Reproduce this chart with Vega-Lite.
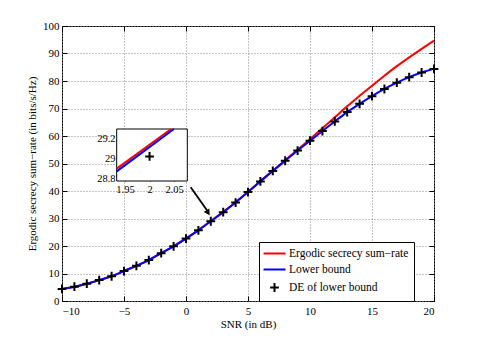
{
  "$schema": "https://vega.github.io/schema/vega-lite/v6.json",
  "width": 372,
  "height": 275,
  "autosize": "none",
  "padding": {"left": 62, "top": 26, "right": 45, "bottom": 38},
  "background": "white",
  "config": {
    "view": {"stroke": "black", "strokeWidth": 1},
    "font": "Liberation Serif",
    "axis": {
      "labelFont": "Liberation Serif", "titleFont": "Liberation Serif",
      "labelFontSize": 11, "titleFontSize": 11, "labelColor": "black", "titleColor": "black",
      "titleFontWeight": "normal", "domain": false, "tickColor": "black", "tickSize": -5
    },
    "legend": {
      "orient": "none", "legendX": 197, "legendY": 216, "direction": "vertical",
      "fillColor": "white", "strokeColor": "black", "padding": 5,
      "labelFont": "Liberation Serif", "labelFontSize": 11.5, "labelColor": "black",
      "symbolSize": 121, "symbolStrokeWidth": 2, "symbolOffset": 4, "labelOffset": 8,
      "rowPadding": 4, "columnPadding": 0, "columns": 1, "labelLimit": 300
    }
  },
  "datasets": {
    "curves": [
      {"snr": -10, "rate": 4.4, "series": "Ergodic secrecy sum−rate"},
      {"snr": -9, "rate": 5.2, "series": "Ergodic secrecy sum−rate"},
      {"snr": -8, "rate": 6.3, "series": "Ergodic secrecy sum−rate"},
      {"snr": -7, "rate": 7.6, "series": "Ergodic secrecy sum−rate"},
      {"snr": -6, "rate": 9.0, "series": "Ergodic secrecy sum−rate"},
      {"snr": -5, "rate": 10.9, "series": "Ergodic secrecy sum−rate"},
      {"snr": -4, "rate": 12.8, "series": "Ergodic secrecy sum−rate"},
      {"snr": -3, "rate": 14.9, "series": "Ergodic secrecy sum−rate"},
      {"snr": -2, "rate": 17.4, "series": "Ergodic secrecy sum−rate"},
      {"snr": -1, "rate": 20.0, "series": "Ergodic secrecy sum−rate"},
      {"snr": 0, "rate": 22.8, "series": "Ergodic secrecy sum−rate"},
      {"snr": 1, "rate": 25.8, "series": "Ergodic secrecy sum−rate"},
      {"snr": 2, "rate": 29.1, "series": "Ergodic secrecy sum−rate"},
      {"snr": 3, "rate": 32.4, "series": "Ergodic secrecy sum−rate"},
      {"snr": 4, "rate": 35.9, "series": "Ergodic secrecy sum−rate"},
      {"snr": 5, "rate": 39.7, "series": "Ergodic secrecy sum−rate"},
      {"snr": 6, "rate": 43.6, "series": "Ergodic secrecy sum−rate"},
      {"snr": 7, "rate": 47.4, "series": "Ergodic secrecy sum−rate"},
      {"snr": 8, "rate": 51.2, "series": "Ergodic secrecy sum−rate"},
      {"snr": 9, "rate": 55.0, "series": "Ergodic secrecy sum−rate"},
      {"snr": 10, "rate": 58.9, "series": "Ergodic secrecy sum−rate"},
      {"snr": 11, "rate": 62.8, "series": "Ergodic secrecy sum−rate"},
      {"snr": 12, "rate": 66.8, "series": "Ergodic secrecy sum−rate"},
      {"snr": 13, "rate": 70.8, "series": "Ergodic secrecy sum−rate"},
      {"snr": 14, "rate": 74.6, "series": "Ergodic secrecy sum−rate"},
      {"snr": 15, "rate": 78.3, "series": "Ergodic secrecy sum−rate"},
      {"snr": 16, "rate": 81.9, "series": "Ergodic secrecy sum−rate"},
      {"snr": 17, "rate": 85.4, "series": "Ergodic secrecy sum−rate"},
      {"snr": 18, "rate": 88.6, "series": "Ergodic secrecy sum−rate"},
      {"snr": 19, "rate": 91.7, "series": "Ergodic secrecy sum−rate"},
      {"snr": 20, "rate": 94.7, "series": "Ergodic secrecy sum−rate"},
      {"snr": -10, "rate": 4.4, "series": "Lower bound"},
      {"snr": -9, "rate": 5.2, "series": "Lower bound"},
      {"snr": -8, "rate": 6.3, "series": "Lower bound"},
      {"snr": -7, "rate": 7.6, "series": "Lower bound"},
      {"snr": -6, "rate": 9.0, "series": "Lower bound"},
      {"snr": -5, "rate": 10.9, "series": "Lower bound"},
      {"snr": -4, "rate": 12.8, "series": "Lower bound"},
      {"snr": -3, "rate": 14.9, "series": "Lower bound"},
      {"snr": -2, "rate": 17.4, "series": "Lower bound"},
      {"snr": -1, "rate": 19.9, "series": "Lower bound"},
      {"snr": 0, "rate": 22.7, "series": "Lower bound"},
      {"snr": 1, "rate": 25.7, "series": "Lower bound"},
      {"snr": 2, "rate": 29.0, "series": "Lower bound"},
      {"snr": 3, "rate": 32.3, "series": "Lower bound"},
      {"snr": 4, "rate": 35.8, "series": "Lower bound"},
      {"snr": 5, "rate": 39.6, "series": "Lower bound"},
      {"snr": 6, "rate": 43.5, "series": "Lower bound"},
      {"snr": 7, "rate": 47.3, "series": "Lower bound"},
      {"snr": 8, "rate": 51.0, "series": "Lower bound"},
      {"snr": 9, "rate": 54.7, "series": "Lower bound"},
      {"snr": 10, "rate": 58.3, "series": "Lower bound"},
      {"snr": 11, "rate": 61.8, "series": "Lower bound"},
      {"snr": 12, "rate": 65.3, "series": "Lower bound"},
      {"snr": 13, "rate": 68.7, "series": "Lower bound"},
      {"snr": 14, "rate": 71.7, "series": "Lower bound"},
      {"snr": 15, "rate": 74.5, "series": "Lower bound"},
      {"snr": 16, "rate": 77.1, "series": "Lower bound"},
      {"snr": 17, "rate": 79.4, "series": "Lower bound"},
      {"snr": 18, "rate": 81.4, "series": "Lower bound"},
      {"snr": 19, "rate": 83.1, "series": "Lower bound"},
      {"snr": 20, "rate": 84.4, "series": "Lower bound"}
    ],
    "de": [
      {"snr": -10, "rate": 4.4, "series": "DE of lower bound"},
      {"snr": -9, "rate": 5.2, "series": "DE of lower bound"},
      {"snr": -8, "rate": 6.3, "series": "DE of lower bound"},
      {"snr": -7, "rate": 7.6, "series": "DE of lower bound"},
      {"snr": -6, "rate": 9.0, "series": "DE of lower bound"},
      {"snr": -5, "rate": 10.9, "series": "DE of lower bound"},
      {"snr": -4, "rate": 12.8, "series": "DE of lower bound"},
      {"snr": -3, "rate": 14.9, "series": "DE of lower bound"},
      {"snr": -2, "rate": 17.4, "series": "DE of lower bound"},
      {"snr": -1, "rate": 19.9, "series": "DE of lower bound"},
      {"snr": 0, "rate": 22.7, "series": "DE of lower bound"},
      {"snr": 1, "rate": 25.7, "series": "DE of lower bound"},
      {"snr": 2, "rate": 29.0, "series": "DE of lower bound"},
      {"snr": 3, "rate": 32.3, "series": "DE of lower bound"},
      {"snr": 4, "rate": 35.8, "series": "DE of lower bound"},
      {"snr": 5, "rate": 39.6, "series": "DE of lower bound"},
      {"snr": 6, "rate": 43.5, "series": "DE of lower bound"},
      {"snr": 7, "rate": 47.3, "series": "DE of lower bound"},
      {"snr": 8, "rate": 51.0, "series": "DE of lower bound"},
      {"snr": 9, "rate": 54.7, "series": "DE of lower bound"},
      {"snr": 10, "rate": 58.3, "series": "DE of lower bound"},
      {"snr": 11, "rate": 61.8, "series": "DE of lower bound"},
      {"snr": 12, "rate": 65.3, "series": "DE of lower bound"},
      {"snr": 13, "rate": 68.7, "series": "DE of lower bound"},
      {"snr": 14, "rate": 71.7, "series": "DE of lower bound"},
      {"snr": 15, "rate": 74.5, "series": "DE of lower bound"},
      {"snr": 16, "rate": 77.1, "series": "DE of lower bound"},
      {"snr": 17, "rate": 79.4, "series": "DE of lower bound"},
      {"snr": 18, "rate": 81.4, "series": "DE of lower bound"},
      {"snr": 19, "rate": 83.1, "series": "DE of lower bound"},
      {"snr": 20, "rate": 84.4, "series": "DE of lower bound"}
    ],
    "arrow": [
      {"snr": 0.38, "rate": 41.4},
      {"snr": 1.72, "rate": 32.8}
    ],
    "arrowhead": [
      {"snr": 1.74, "rate": 32.4}
    ],
    "insetBox": [
      {"x0": 1.933, "x1": 2.077, "y0": 28.77, "y1": 29.30}
    ],
    "insetLines": [
      {"snr": 1.933, "rate": 28.896, "series": "Ergodic secrecy sum−rate"},
      {"snr": 2.044, "rate": 29.30, "series": "Ergodic secrecy sum−rate"},
      {"snr": 1.933, "rate": 28.868, "series": "Lower bound"},
      {"snr": 2.0497, "rate": 29.30, "series": "Lower bound"}
    ],
    "insetPoint": [
      {"snr": 2.0, "rate": 29.02, "series": "DE of lower bound"}
    ]
  },
  "layer": [
    {
      "encoding": {
        "x": {"field": "snr", "type": "quantitative",
          "scale": {"domain": [-10, 20], "nice": false, "zero": false},
          "axis": {"orient": "bottom", "title": "SNR (in dB)", "values": [-10, -5, 0, 5, 10, 15, 20],
            "grid": true, "gridDash": [1, 2], "gridColor": "#888", "gridOpacity": 1,
            "labelPadding": 9, "titlePadding": 2}},
        "y": {"field": "rate", "type": "quantitative",
          "scale": {"domain": [0, 100], "nice": false, "zero": false},
          "axis": {"orient": "left", "title": "Ergodic secrecy sum−rate (in bits/s/Hz)",
            "values": [0, 10, 20, 30, 40, 50, 60, 70, 80, 90, 100],
            "grid": true, "gridDash": [1, 2], "gridColor": "#888", "gridOpacity": 1,
            "labelPadding": 8, "titlePadding": 5}}
      },
      "layer": [
        {
          "data": {"name": "curves"},
          "mark": {"type": "line", "strokeWidth": 2, "interpolate": "monotone"},
          "encoding": {
            "color": {"field": "series", "type": "nominal",
              "scale": {"domain": ["Ergodic secrecy sum−rate", "Lower bound", "DE of lower bound"], "range": ["#ff0000", "#0000ff", "#000000"]},
              "sort": ["Ergodic secrecy sum−rate", "Lower bound", "DE of lower bound"],
              "legend": {"title": null}}
          }
        },
        {
          "data": {"name": "de"},
          "mark": {"type": "point", "filled": false, "strokeWidth": 2, "size": 121, "opacity": 1},
          "encoding": {
            "color": {"field": "series", "type": "nominal", "legend": {"title": null}},
            "shape": {"field": "series", "type": "nominal", "legend": {"title": null},
              "scale": {"domain": ["Ergodic secrecy sum−rate", "Lower bound", "DE of lower bound"],
                "range": ["M-2,0L2,0", "M-2,0L2,0", "M-0.8,0L0.8,0M0,-0.8L0,0.8"]}}
          }
        },
        {
          "data": {"name": "arrow"},
          "mark": {"type": "line", "color": "black", "strokeWidth": 1.8},
          "encoding": {}
        },
        {
          "data": {"name": "arrowhead"},
          "mark": {"type": "point", "shape": "triangle", "filled": true, "color": "black", "size": 45, "angle": 147, "opacity": 1},
          "encoding": {}
        }
      ]
    },
    {
      "layer": [
        {
          "data": {"name": "insetBox"},
          "mark": {"type": "rect", "fill": "white", "stroke": "black", "strokeWidth": 1},
          "encoding": {
            "x": {"field": "x0", "type": "quantitative"},
            "x2": {"field": "x1"},
            "y": {"field": "y0", "type": "quantitative"},
            "y2": {"field": "y1"}
          }
        },
        {
          "data": {"name": "insetLines"},
          "mark": {"type": "line", "strokeWidth": 2},
          "encoding": {
            "x": {"field": "snr", "type": "quantitative"},
            "y": {"field": "rate", "type": "quantitative"},
            "color": {"field": "series", "type": "nominal", "legend": {"title": null}}
          }
        },
        {
          "data": {"name": "insetPoint"},
          "mark": {"type": "point", "filled": false, "strokeWidth": 2, "size": 121, "opacity": 1},
          "encoding": {
            "x": {"field": "snr", "type": "quantitative"},
            "y": {"field": "rate", "type": "quantitative"},
            "color": {"field": "series", "type": "nominal", "legend": {"title": null}},
            "shape": {"field": "series", "type": "nominal", "legend": {"title": null}}
          }
        }
      ],
      "encoding": {
        "x": {"field": "snr", "type": "quantitative",
          "scale": {"domain": [1.933, 2.077], "range": [54.7, 125.3], "nice": false, "zero": false},
          "axis": {"orient": "bottom", "offset": -120, "title": null, "values": [1.95, 2, 2.05], "format": "~g",
            "grid": false, "tickSize": -4, "labelFontSize": 10.5, "labelPadding": 7}},
        "y": {"field": "rate", "type": "quantitative",
          "scale": {"domain": [28.77, 29.30], "range": [155, 103], "nice": false, "zero": false},
          "axis": {"orient": "left", "offset": -55, "title": null, "values": [28.8, 29, 29.2], "format": "~g",
            "grid": false, "tickSize": -4, "labelFontSize": 10.5, "labelPadding": 6}}
      }
    },
    {
      "data": {"name": "de"},
      "mark": {"type": "point", "opacity": 0},
      "encoding": {
        "x": {"field": "snr", "type": "quantitative",
          "scale": {"domain": [-10, 20], "nice": false, "zero": false},
          "axis": {"orient": "top", "title": null, "labels": false, "grid": false, "values": [-10, -5, 0, 5, 10, 15, 20]}},
        "y": {"field": "rate", "type": "quantitative",
          "scale": {"domain": [0, 100], "nice": false, "zero": false},
          "axis": {"orient": "right", "title": null, "labels": false, "grid": false, "values": [0, 10, 20, 30, 40, 50, 60, 70, 80, 90, 100]}}
      }
    }
  ],
  "resolve": {"scale": {"x": "independent", "y": "independent"}}
}
